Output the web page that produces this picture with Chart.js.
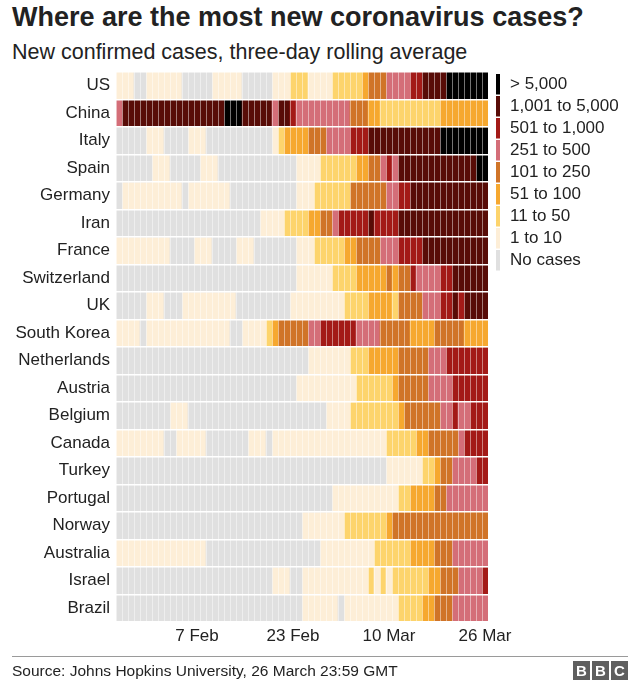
<!DOCTYPE html>
<html>
<head>
<meta charset="utf-8">
<title>Where are the most new coronavirus cases?</title>
<script src="https://cdn.jsdelivr.net/npm/chart.js@4.4.1/dist/chart.umd.min.js"></script>
<style>
  html, body { margin:0; padding:0; background:#fff; }
  body { position:relative; width:640px; height:685px; overflow:hidden; font-family:"Liberation Sans", Arial, Helvetica, sans-serif; color:#222; }
  #title { position:absolute; left:12px; top:4px; font-size:27px; line-height:27px; font-weight:bold; white-space:nowrap; color:#222; }
  #subtitle { position:absolute; left:12px; top:42px; font-size:21.5px; line-height:21px; white-space:nowrap; color:#222; }
  #chart { position:absolute; left:0; top:0; }
  #rule { position:absolute; left:12px; top:656px; width:616px; height:1px; background:#9a9a9a; }
  #source { position:absolute; left:12px; top:662px; font-size:15.5px; line-height:18px; white-space:nowrap; color:#222; }
  #bbc { position:absolute; left:573px; top:661px; height:19px; width:55px; }
  #bbc span { position:absolute; top:0; width:17px; height:19px; background:#5f5f5f; color:#fff; font-weight:bold; font-size:15px; line-height:19px; text-align:center; }
</style>
</head>
<body>
<div id="title">Where are the most new coronavirus cases?</div>
<div id="subtitle">New confirmed cases, three-day rolling average</div>
<canvas id="chart" width="640" height="660"></canvas>
<div id="rule"></div>
<div id="source">Source: Johns Hopkins University, 26 March 23:59 GMT</div>
<div id="bbc"><span style="left:0">B</span><span style="left:19px">B</span><span style="left:38px">C</span></div>
<script>
// ---- data ----
const countries = ['US','China','Italy','Spain','Germany','Iran','France','Switzerland','UK','South Korea',
  'Netherlands','Austria','Belgium','Canada','Turkey','Portugal','Norway','Australia','Israel','Brazil'];

// colour-band categories, index = level code used below
const levelLabels = ['No cases','1 to 10','11 to 50','51 to 100','101 to 250','251 to 500',
  '501 to 1,000','1,001 to 5,000','> 5,000'];

// one column per day, 25 Jan .. 26 Mar (62 days)
const dayCount = 62;
const tickLabels = ['7 Feb','23 Feb','10 Mar','26 Mar'];
const tickDays = [13, 29, 45, 61];

// per-country band levels, written as runs "level*days", left to right
const rowRuns = [
  '1*3 0*2 1*6 0*5 1*5 0*5 1*3 2*3 1*4 2*5 3*1 4*3 5*4 6*2 7*4 8*7',          // US
  '5*1 7*17 8*3 7*5 5*1 7*2 6*1 5*9 4*3 3*2 2*10 3*8',                        // China
  '0*5 1*3 0*4 1*3 0*11 1*1 2*1 3*4 4*3 5*4 6*3 7*12 8*8',                    // Italy
  '0*6 1*3 0*5 1*3 0*13 1*4 2*6 3*2 4*2 5*1 6*1 5*1 7*13 8*2',                // Spain
  '0*1 1*10 0*1 1*7 0*11 1*3 2*6 4*6 5*2 6*2 7*13',                           // Germany
  '0*24 1*4 2*4 3*2 4*2 5*1 6*5 7*1 6*4 7*15',                                // Iran
  '1*9 0*4 1*3 0*4 1*3 0*7 1*3 2*5 3*2 4*4 5*3 6*4 7*11',                     // France
  '0*30 1*6 2*4 3*5 4*1 3*1 4*2 6*1 5*4 6*2 7*6',                             // Switzerland
  '0*5 1*3 0*3 1*9 0*9 1*9 2*4 3*4 2*1 4*4 5*3 6*2 7*1 6*1 7*4',              // UK
  '1*4 0*1 1*14 0*2 1*4 2*1 3*1 4*5 5*2 6*6 5*4 4*5 3*4 4*5 3*4',             // South Korea
  '0*32 1*7 2*3 3*5 4*5 5*3 6*7',                                             // Netherlands
  '0*30 1*10 2*6 3*1 4*5 5*4 6*6',                                            // Austria
  '0*9 1*3 0*23 1*4 2*8 3*1 4*6 5*2 6*1 5*2 6*3',                             // Belgium
  '1*8 0*2 1*5 0*7 1*3 0*1 1*19 2*5 3*2 4*5 5*1 6*4',                         // Canada
  '0*45 1*6 2*2 3*1 4*2 5*4 6*2',                                             // Turkey
  '0*36 1*11 2*2 3*4 4*2 5*7',                                                // Portugal
  '0*31 1*7 2*7 3*1 4*16',                                                    // Norway
  '1*15 0*19 1*9 2*6 3*4 4*3 5*6',                                            // Australia
  '0*26 1*3 0*2 1*11 2*1 1*1 2*1 1*1 2*6 3*2 4*3 5*4 6*1',                    // Israel
  '0*31 1*6 0*1 1*9 2*4 3*2 4*3 5*6'                                          // Brazil
];

// ---- styles ----
const levelColors = ['#e0e0e0','#fdeed7','#fdd46c','#f6a82f','#d07428','#d46e78','#a31a17','#580c07','#000000'];
const FONT = '"Liberation Sans", Arial, Helvetica, sans-serif';
Chart.defaults.font.family = FONT;
Chart.defaults.color = '#222';

function expandRuns(str) {
  const out = [];
  str.trim().split(/\s+/).forEach(tok => {
    const parts = tok.split('*');
    const lv = Number(parts[0]), n = Number(parts[1]);
    for (let i = 0; i < n; i++) out.push(lv);
  });
  return out;
}

const datasets = levelLabels.map((label, lv) => ({
  label: label,
  data: [],
  backgroundColor: levelColors[lv],
  borderWidth: 0,
  barPercentage: 1,
  categoryPercentage: 1,
  grouped: false
}));

countries.forEach((country, r) => {
  const levels = expandRuns(rowRuns[r]);
  if (levels.length !== dayCount) console.error(country + ' has ' + levels.length + ' days');
  levels.forEach((lv, d) => datasets[lv].data.push({ y: country, x: [d, d + 1] }));
});

const heatLegend = {
  id: 'heatLegend',
  afterDraw(chart) {
    const ctx = chart.ctx;
    ctx.save();
    ctx.font = '17px ' + FONT;
    ctx.textBaseline = 'middle';
    ctx.textAlign = 'left';
    for (let i = 0; i < levelLabels.length; i++) {
      const lv = levelLabels.length - 1 - i;
      const top = 74 + i * 22;
      ctx.fillStyle = levelColors[lv];
      ctx.fillRect(496, top, 4, 20.5);
      ctx.fillStyle = '#222';
      ctx.fillText(levelLabels[lv], 510, top + 10.5);
    }
    ctx.restore();
  }
};

new Chart(document.getElementById('chart'), {
  type: 'bar',
  data: { labels: countries, datasets: datasets },
  options: {
    indexAxis: 'y',
    responsive: false,
    animation: false,
    events: [],
    layout: { padding: { top: 72, right: 152, bottom: 8, left: 0 } },
    plugins: { legend: { display: false }, tooltip: { enabled: false } },
    scales: {
      x: {
        type: 'linear',
        position: 'bottom',
        min: 0,
        max: dayCount,
        afterBuildTicks(scale) {
          const t = [];
          for (let i = 0; i <= dayCount * 2; i++) t.push({ value: i / 2 });
          scale.ticks = t;
        },
        afterFit(scale) { scale.height = 30; },
        ticks: {
          autoSkip: false, maxRotation: 0, minRotation: 0, padding: 4,
          color: '#222', font: { size: 17 },
          callback(v) { const k = tickDays.indexOf(v - 0.5); return k >= 0 ? tickLabels[k] : ''; }
        },
        grid: {
          z: 1, drawTicks: false, lineWidth: 1,
          color(ctx) {
            const v = ctx.tick ? ctx.tick.value : 0.5;
            return Number.isInteger(v) ? 'rgba(255,255,255,0.45)' : 'rgba(0,0,0,0)';
          }
        },
        border: { display: false }
      },
      y: {
        type: 'category',
        offset: true,
        afterFit(scale) { scale.width = 116; },
        ticks: { padding: 6, color: '#222', font: { size: 17 } },
        grid: { z: 1, offset: true, drawTicks: false, lineWidth: 1.5, color: '#ffffff' },
        border: { display: false }
      }
    }
  },
  plugins: [heatLegend]
});
</script>
</body>
</html>
